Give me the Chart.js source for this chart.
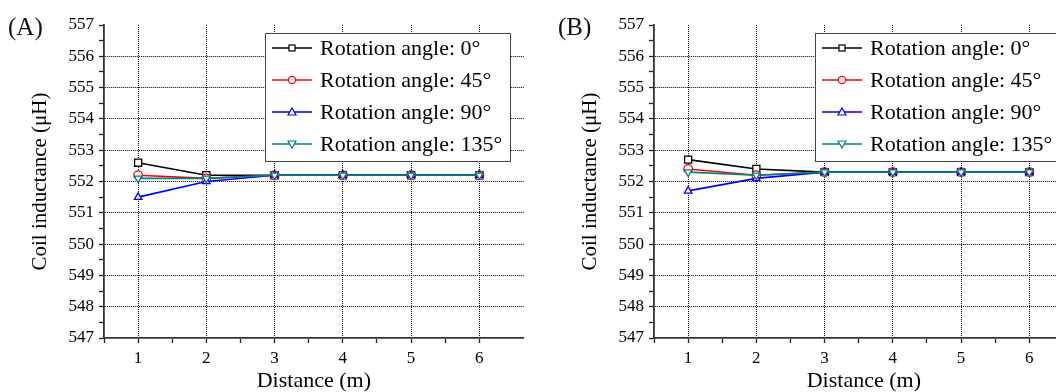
<!DOCTYPE html>
<html>
<head>
<meta charset="utf-8">
<script src="https://cdn.jsdelivr.net/npm/chart.js@4/dist/chart.umd.min.js"></script>
<style>
  html, body { margin: 0; padding: 0; background: #fff; }
  body { width: 1056px; height: 392px; overflow: hidden; position: relative; font-family: 'Liberation Serif', 'Times New Roman', serif; }
  .panel { position: absolute; top: 0; width: 530px; height: 392px; }
  .panel canvas { position: absolute; left: 0; top: 0; }
  .tag { position: absolute; left: 8px; top: 13px; font-size: 25px; color: #111; }
  .legend { position: absolute; left: 265px; top: 33px; width: 244px; height: 127px; border: 1.5px solid #444; background: #fff; }
  .legend .row { position: absolute; left: 0; height: 32px; line-height: 32px; font-size: 22px; color: #000; white-space: nowrap; }
  .legend svg { position: absolute; left: 6px; top: 6px; }
  .legend span { position: absolute; left: 54px; top: 0; }
</style>
</head>
<body>
<div class="panel" style="left:0px">
  <canvas id="chartA" width="530" height="392"></canvas>
  <div class="tag">(A)</div>
  <div class="legend" id="legendA"></div>
</div>
<div class="panel" style="left:550px">
  <canvas id="chartB" width="530" height="392"></canvas>
  <div class="tag">(B)</div>
  <div class="legend" id="legendB"></div>
</div>
<script>
// ─── Data ────────────────────────────────────────────────────────────────────
const distances     = [1, 2, 3, 4, 5, 6];
const seriesNames   = ['Rotation angle: 0°', 'Rotation angle: 45°', 'Rotation angle: 90°', 'Rotation angle: 135°'];
const seriesColors  = ['#000000', '#ff0000', '#0000ff', '#008080'];
const seriesMarkers = ['rect', 'circle', 'triangle', 'triangle'];
const markerRotate  = [0, 0, 0, 180];

// panel (A)
const coilA0   = [552.6, 552.2, 552.2, 552.2, 552.2, 552.2];
const coilA45  = [552.2, 552.1, 552.2, 552.2, 552.2, 552.2];
const coilA90  = [551.5, 552.0, 552.2, 552.2, 552.2, 552.2];
const coilA135 = [552.1, 552.1, 552.2, 552.2, 552.2, 552.2];

// panel (B)
const coilB0   = [552.7, 552.4, 552.3, 552.3, 552.3, 552.3];
const coilB45  = [552.4, 552.2, 552.3, 552.3, 552.3, 552.3];
const coilB90  = [551.7, 552.1, 552.3, 552.3, 552.3, 552.3];
const coilB135 = [552.3, 552.2, 552.3, 552.3, 552.3, 552.3];

const Y_MIN = 547, Y_MAX = 557;
const X_MIN = 0.5, X_MAX = 6.65, X_LAST_TICK = 6.5;

const FONT = "'Liberation Serif', 'Times New Roman', serif";

// ─── Chart ───────────────────────────────────────────────────────────────────
function _datasets(seriesList) {
  return seriesList.map((values, i) => ({
    label: seriesNames[i],
    data: distances.map((d, k) => ({ x: d, y: values[k] })),
    borderColor: seriesColors[i],
    backgroundColor: '#ffffff',
    pointBackgroundColor: '#ffffff',
    pointBorderColor: seriesColors[i],
    pointStyle: seriesMarkers[i],
    rotation: markerRotate[i],
    pointRadius: seriesMarkers[i] === 'rect' ? 5 : 4.3,
    pointBorderWidth: 1.3,
    borderWidth: 1.6,
    tension: 0,
    order: seriesList.length - i,
  }));
}

function renderPanel(canvasId, seriesList) {
  const canvas = document.getElementById(canvasId);
  return new Chart(canvas, {
    type: 'line',
    data: { datasets: _datasets(seriesList) },
    options: {
      responsive: false,
      animation: false,
      events: [],
      layout: { padding: { top: 25, right: 5, left: 0, bottom: 0 } },
      plugins: { legend: { display: false }, tooltip: { enabled: false } },
      scales: {
        x: {
          type: 'linear',
          min: X_MIN,
          max: X_MAX,
          afterBuildTicks: s => { s.ticks = s.ticks.filter(t => t.value <= X_LAST_TICK); },
          afterFit: s => { s.height = 54; },
          ticks: {
            stepSize: 0.5,
            autoSkip: false,
            maxRotation: 0,
            padding: 5,
            color: '#000',
            font: { family: FONT, size: 17 },
            callback: v => Number.isInteger(v) ? String(v) : '',
          },
          grid: {
            color: c => (Number.isInteger(c.tick?.value) ? '#000' : 'rgba(0,0,0,0)'),
            lineWidth: 1,
            tickColor: '#222',
            tickLength: 5,
            tickWidth: 1.3,
          },
          border: { display: true, color: '#333', width: 1.8, dash: [1, 1] },
          title: {
            display: true,
            text: 'Distance (m)',
            color: '#000',
            font: { family: FONT, size: 22, lineHeight: 1 },
            padding: { top: 0, bottom: 0 },
          },
        },
        y: {
          min: Y_MIN,
          max: Y_MAX,
          afterFit: s => { s.width = 104; },
          ticks: {
            stepSize: 0.5,
            autoSkip: false,
            padding: 5,
            color: '#000',
            font: { family: FONT, size: 17 },
            callback: v => Number.isInteger(v) ? String(v) : '',
          },
          grid: {
            color: c => {
              const v = c.tick?.value;
              return Number.isInteger(v) && v > Y_MIN && v < Y_MAX ? '#000' : 'rgba(0,0,0,0)';
            },
            lineWidth: 1,
            tickColor: '#222',
            tickLength: 5,
            tickWidth: 1.3,
          },
          border: { display: true, color: '#333', width: 1.8, dash: [1, 1] },
          title: {
            display: true,
            text: 'Coil inductance (μH)',
            color: '#000',
            font: { family: FONT, size: 21, lineHeight: 1.2 },
            padding: { top: 28, bottom: 0 },
          },
        },
      },
    },
  });
}

// ─── Legend (inside the plot, as in the original) ────────────────────────────
function _markerSvg(i) {
  const c = seriesColors[i];
  const cx = 20, cy = 10;
  let shape;
  if (seriesMarkers[i] === 'rect') {
    shape = `<rect x="${cx - 3}" y="${cy - 3}" width="6" height="6" fill="#fff" stroke="${c}" stroke-width="1.2"/>`;
  } else if (seriesMarkers[i] === 'circle') {
    shape = `<circle cx="${cx}" cy="${cy}" r="3.6" fill="#fff" stroke="${c}" stroke-width="1.2"/>`;
  } else if (markerRotate[i] === 180) {
    shape = `<polygon points="${cx - 4},${cy - 3} ${cx + 4},${cy - 3} ${cx},${cy + 4}" fill="#fff" stroke="${c}" stroke-width="1.2"/>`;
  } else {
    shape = `<polygon points="${cx - 4},${cy + 3} ${cx + 4},${cy + 3} ${cx},${cy - 4}" fill="#fff" stroke="${c}" stroke-width="1.2"/>`;
  }
  return `<svg width="40" height="20" viewBox="0 0 40 20"><line x1="0" y1="${cy}" x2="40" y2="${cy}" stroke="${c}" stroke-width="1.6"/>${shape}</svg>`;
}

function buildLegend(id) {
  const box = document.getElementById(id);
  seriesNames.forEach((name, i) => {
    const row = document.createElement('div');
    row.className = 'row';
    row.style.top = (i * 32 - 2) + 'px';
    row.innerHTML = _markerSvg(i) + `<span>${name}</span>`;
    box.appendChild(row);
  });
}

renderPanel('chartA', [coilA0, coilA45, coilA90, coilA135]);
renderPanel('chartB', [coilB0, coilB45, coilB90, coilB135]);
buildLegend('legendA');
buildLegend('legendB');
</script>
</body>
</html>
